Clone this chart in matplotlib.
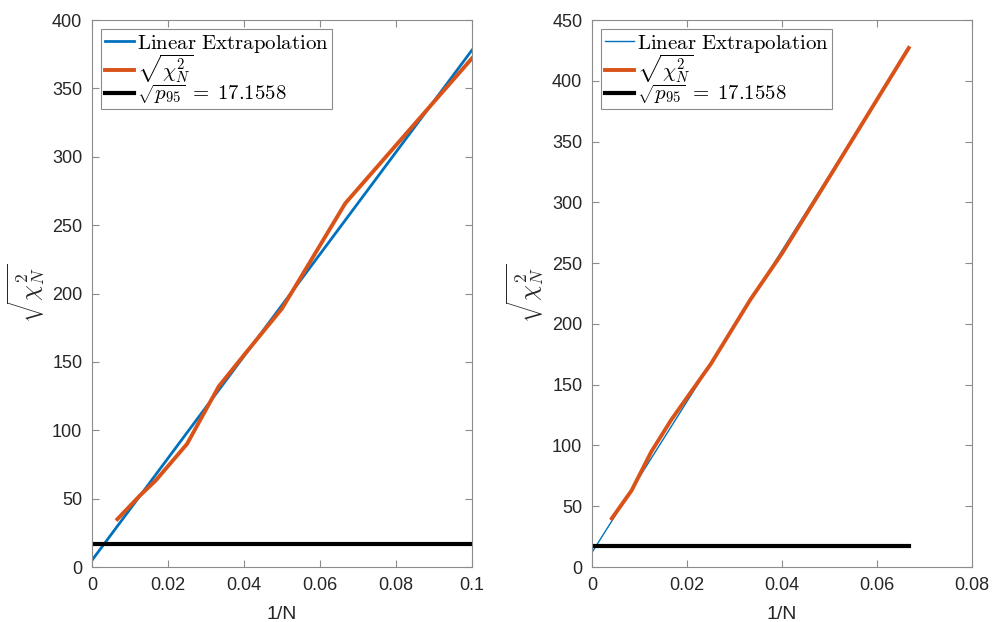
import matplotlib
matplotlib.use("Agg")
import matplotlib.pyplot as plt
import numpy as np

plt.rcParams["font.family"] = ["Liberation Sans", "DejaVu Sans"]
plt.rcParams["mathtext.fontset"] = "cm"

# left panel: N = 150 ... 10
invN_left = [1/150, 1/80, 1/60, 1/40, 1/30, 1/25, 1/20, 1/15, 1/10]
chi_left = [35, 52, 63, 90, 132, 155, 189, 266, 372]
fit_left = [5.0, 378.0]  # intercept at 0, value at 0.1
fit_left_x = [0.0, 0.1]

# right panel: N = 240 ... 15
invN_right = [1/240, 1/120, 1/80, 1/60, 1/40, 1/30, 1/25, 1/20, 1/15]
chi_right = [40, 63, 95, 121, 167, 220, 258, 321, 427]
fit_right = [12.0, 426.0]
fit_right_x = [0.0, 1/15]

p95 = 17.1558

blue = "#0072BD"
orange = "#D95319"
spine_col = "#8c8c8c"
tick_col = "#262626"

fig = plt.figure(figsize=(9.94, 6.22), dpi=100)
ax1 = fig.add_axes([0.0926, 0.0884, 0.3822, 0.8794])
ax2 = fig.add_axes([0.5956, 0.0884, 0.3823, 0.8794])


def style(ax, xmax, ymax, xticks, yticks, xlabels):
    ax.set_xlim(0, xmax)
    ax.set_ylim(0, ymax)
    ax.set_xticks(xticks)
    ax.set_xticklabels(xlabels)
    ax.set_yticks(yticks)
    ax.tick_params(direction="in", top=True, right=True, length=5, width=0.8,
                   color=spine_col, labelcolor=tick_col, labelsize=13, pad=7)
    for s in ax.spines.values():
        s.set_color(spine_col)
        s.set_linewidth(0.8)
    ax.set_xlabel("1/N", fontsize=14, color=tick_col, labelpad=9)
    ax.set_ylabel(r"$\sqrt{\chi^2_N}$", fontsize=18, color=tick_col, labelpad=4)


labels = [r"$\mathrm{Linear\ Extrapolation}$", r"$\sqrt{\chi^2_N}$",
          r"$\sqrt{p_{95}}\;=\;17.1558$"]

# left
ax1.plot(fit_left_x, fit_left, color=blue, lw=2.0, label=labels[0])
ax1.plot(invN_left, chi_left, color=orange, lw=2.8, label=labels[1])
ax1.plot([0, 0.1], [p95, p95], color="black", lw=3.0, label=labels[2])
style(ax1, 0.1, 400, [0, 0.02, 0.04, 0.06, 0.08, 0.1], np.arange(0, 401, 50),
      ["0", "0.02", "0.04", "0.06", "0.08", "0.1"])

# right
ax2.plot(fit_right_x, fit_right, color=blue, lw=1.0, label=labels[0])
ax2.plot(invN_right, chi_right, color=orange, lw=2.8, label=labels[1])
ax2.plot([0, 1/15], [p95, p95], color="black", lw=3.0, label=labels[2])
style(ax2, 0.08, 450, [0, 0.02, 0.04, 0.06, 0.08], np.arange(0, 451, 50),
      ["0", "0.02", "0.04", "0.06", "0.08"])

for ax in (ax1, ax2):
    leg = ax.legend(loc="upper left", fontsize=15, fancybox=False, framealpha=1,
                    edgecolor=spine_col, handlelength=1.4, handletextpad=0.15,
                    labelspacing=-0.1, borderpad=0.15, borderaxespad=0.45)
    leg.get_frame().set_linewidth(0.8)

fig.savefig("out.png", dpi=100)
